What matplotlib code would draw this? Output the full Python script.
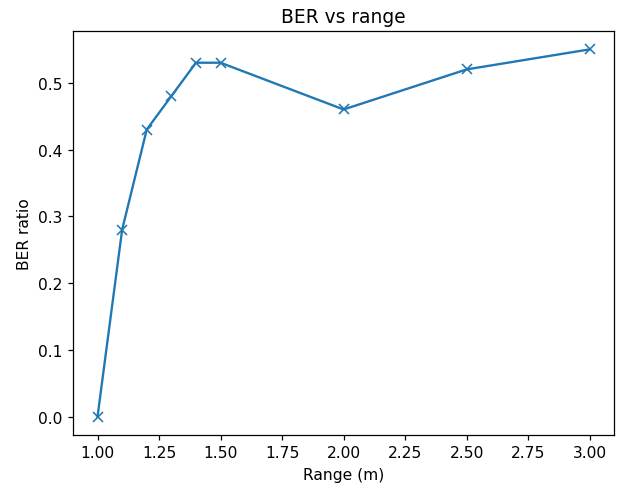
import matplotlib
matplotlib.use("Agg")
import matplotlib.pyplot as plt

# Measured bit error ratio at each range
range_m = [1.0, 1.1, 1.2, 1.3, 1.4, 1.5, 2.0, 2.5, 3.0]
ber = [0.0, 0.28, 0.43, 0.48, 0.53, 0.53, 0.46, 0.52, 0.55]

s = 1.12
plt.rcParams.update({
    "font.size": 10 * s,
    "axes.titlesize": 12 * s,
    "axes.labelsize": 10 * s,
    "xtick.labelsize": 10 * s,
    "ytick.labelsize": 10 * s,
    "xtick.major.size": 3.5 * s,
    "ytick.major.size": 3.5 * s,
    "xtick.major.width": 0.8 * s,
    "ytick.major.width": 0.8 * s,
    "axes.linewidth": 0.8 * s,
})

fig = plt.figure(figsize=(6.18, 4.85), dpi=100)
ax = fig.add_axes([0.118, 0.101, 0.876, 0.833])
ax.plot(range_m, ber, marker="x", markersize=6 * s, linewidth=1.5 * s,
        markeredgewidth=1.0 * s)
ax.set_title("BER vs range", pad=6 * s)
ax.set_xlabel("Range (m)", labelpad=4 * s)
ax.set_ylabel("BER ratio", labelpad=4 * s)
fig.savefig("out.png", dpi=100)
